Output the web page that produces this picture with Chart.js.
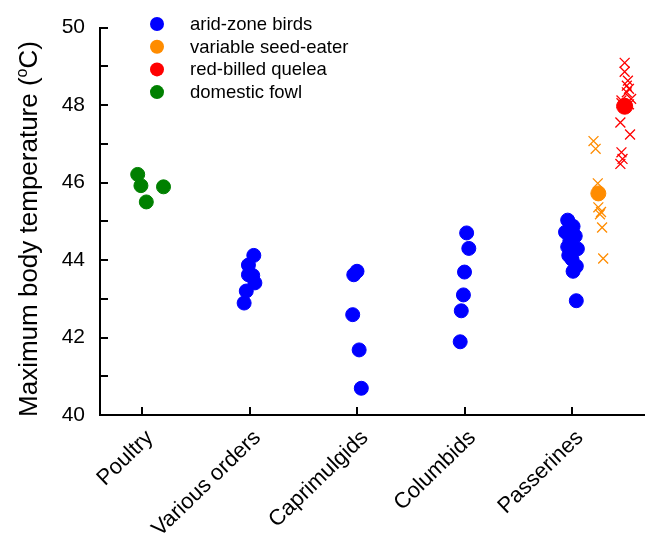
<!DOCTYPE html>
<html>
<head>
<meta charset="utf-8">
<script src="https://cdn.jsdelivr.net/npm/chart.js@4.4.1/dist/chart.umd.min.js"></script>
<style>
  html, body { margin: 0; padding: 0; background: #fff; }
  #wrap { width: 645px; height: 544px; position: relative; }
</style>
</head>
<body>
<div id="wrap"><canvas id="chart"></canvas></div>
<script>
const categories = ['Poultry', 'Various orders', 'Caprimulgids', 'Columbids', 'Passerines'];
const yTicks = [40, 42, 44, 46, 48, 50];

// x = category position (1..5) plus the jitter seen in the figure
const fowlX = [0.96, 0.99, 1.2, 1.04];
const fowlY = [46.21, 45.92, 45.89, 45.5];

const variousX = [2.04, 1.99, 1.99, 2.03, 2.05, 1.97, 1.95];
const variousY = [44.12, 43.87, 43.62, 43.6, 43.41, 43.2, 42.89];

const caprimulgidX = [3.0, 2.97, 2.96, 3.02, 3.04];
const caprimulgidY = [43.71, 43.62, 42.59, 41.68, 40.69];

const columbidX = [4.02, 4.04, 4.0, 3.99, 3.97, 3.96];
const columbidY = [44.7, 44.3, 43.69, 43.1, 42.69, 41.89];

const passerineX = [4.96, 5.01, 4.94, 5.03, 4.98, 4.96, 5.05, 4.97, 5.0, 5.04, 5.01, 5.04];
const passerineY = [45.03, 44.87, 44.72, 44.62, 44.49, 44.34, 44.29, 44.12, 44.02, 43.84, 43.71, 42.95];

const seedEaterX = [5.2, 5.22, 5.24, 5.245, 5.27, 5.26, 5.28, 5.29];
const seedEaterY = [47.07, 46.87, 45.98, 45.36, 45.24, 45.18, 44.84, 44.04];
const seedEaterMean = [5.245, 45.72];

const queleaX = [5.49, 5.49, 5.52, 5.51, 5.53, 5.51, 5.55, 5.46, 5.46, 5.53, 5.45, 5.54, 5.46, 5.47, 5.45];
const queleaY = [49.09, 48.86, 48.63, 48.5, 48.42, 48.33, 48.16, 48.12, 48.05, 48.02, 47.55, 47.24, 46.78, 46.61, 46.48];
const queleaMean = [5.49, 47.97];

const legendItems = [
	{ label: 'arid-zone birds', color: '#0000ff' },
	{ label: 'variable seed-eater', color: '#ff8c00' },
	{ label: 'red-billed quelea', color: '#ff0000' },
	{ label: 'domestic fowl', color: '#008000' },
];

const FONT = "'Liberation Sans', Arial, sans-serif";

function toPoints(xs, ys) {
	return xs.map((x, i) => ({ x: x, y: ys[i] }));
}

const decorations = {
	id: 'decorations',
	afterDraw(chart) {
		const { ctx, chartArea, scales } = chart;
		ctx.save();
		ctx.strokeStyle = '#000';
		ctx.lineWidth = 2;
		// inward ticks
		for (let v = 40; v <= 50; v++) {
			const py = Math.round(scales.y.getPixelForValue(v));
			ctx.beginPath();
			ctx.moveTo(chartArea.left, py);
			ctx.lineTo(chartArea.left + 8, py);
			ctx.stroke();
		}
		categories.forEach((c, i) => {
			const px = Math.round(scales.x.getPixelForValue(i + 1));
			ctx.beginPath();
			ctx.moveTo(px, chartArea.bottom);
			ctx.lineTo(px, chartArea.bottom - 8);
			ctx.stroke();
		});

		// legend
		ctx.font = '18.5px ' + FONT;
		ctx.textBaseline = 'middle';
		ctx.textAlign = 'left';
		legendItems.forEach((item, i) => {
			const y = 24 + i * 22.7;
			ctx.fillStyle = item.color;
			ctx.beginPath();
			ctx.arc(157, y, 7, 0, Math.PI * 2);
			ctx.fill();
			ctx.fillStyle = '#000';
			ctx.fillText(item.label, 190, y + 1);
		});

		// y title with superscript o
		ctx.translate(37, 229);
		ctx.rotate(-Math.PI / 2);
		ctx.textBaseline = 'alphabetic';
		ctx.fillStyle = '#000';
		const big = '26px ' + FONT;
		const small = '16px ' + FONT;
		const t1 = 'Maximum body temperature (';
		const t2 = 'C)';
		ctx.font = big;
		const w1 = ctx.measureText(t1).width;
		const w3 = ctx.measureText(t2).width;
		ctx.font = small;
		const w2 = ctx.measureText('o').width;
		let x = -(w1 + w2 + w3) / 2;
		ctx.font = big;
		ctx.fillText(t1, x, 0);
		x += w1;
		ctx.font = small;
		ctx.fillText('o', x, -10);
		x += w2;
		ctx.font = big;
		ctx.fillText(t2, x, 0);
		ctx.restore();
	},
};

const ctx = document.getElementById('chart').getContext('2d');
new Chart(ctx, {
	type: 'scatter',
	data: {
		datasets: [
			{
				label: 'red-billed quelea mean',
				data: [{ x: queleaMean[0], y: queleaMean[1] }],
				backgroundColor: '#ff0000',
				borderColor: '#ff0000',
				pointRadius: 8,
				order: 0,
			},
			{
				label: 'variable seed-eater mean',
				data: [{ x: seedEaterMean[0], y: seedEaterMean[1] }],
				backgroundColor: '#ff8c00',
				borderColor: '#ff8c00',
				pointRadius: 7.5,
				order: 1,
			},
			{
				label: 'red-billed quelea',
				data: toPoints(queleaX, queleaY),
				pointStyle: 'crossRot',
				borderColor: '#ff0000',
				borderWidth: 1.3,
				pointRadius: 7,
				order: 2,
			},
			{
				label: 'variable seed-eater',
				data: toPoints(seedEaterX, seedEaterY),
				pointStyle: 'crossRot',
				borderColor: '#ff8c00',
				borderWidth: 1.3,
				pointRadius: 7,
				order: 3,
			},
			{
				label: 'arid-zone birds',
				data: [
					...toPoints(variousX, variousY),
					...toPoints(caprimulgidX, caprimulgidY),
					...toPoints(columbidX, columbidY),
					...toPoints(passerineX, passerineY),
				],
				backgroundColor: '#0000ff',
				borderColor: '#0000ff',
				pointRadius: 7,
				order: 4,
			},
			{
				label: 'domestic fowl',
				data: toPoints(fowlX, fowlY),
				backgroundColor: '#008000',
				borderColor: '#008000',
				pointRadius: 7,
				order: 5,
			},
		],
	},
	options: {
		responsive: true,
		maintainAspectRatio: false,
		animation: false,
		layout: { autoPadding: false, padding: { top: 19, left: 0, right: 0, bottom: 0 } },
		plugins: {
			legend: { display: false },
			tooltip: { enabled: false },
		},
		scales: {
			x: {
				type: 'linear',
				min: 1 - 42 / 107.5,
				max: 5 + 73 / 107.5,
				grid: { display: false, drawTicks: false },
				border: { display: true, color: '#000', width: 2 },
				afterBuildTicks: (scale) => {
					scale.ticks = categories.map((c, i) => ({ value: i + 1 }));
				},
				afterFit: (scale) => {
					scale.height = 129;
					scale.paddingLeft = 0;
					scale.paddingRight = 0;
				},
				ticks: {
					autoSkip: false,
					minRotation: 44,
					maxRotation: 44,
					padding: 10,
					labelOffset: 8,
					color: '#000',
					font: { family: FONT, size: 22 },
					callback: (value) => categories[Math.round(value) - 1] || '',
				},
			},
			y: {
				min: 40,
				max: 50,
				grid: { display: false, drawTicks: false },
				border: { display: true, color: '#000', width: 2 },
				afterBuildTicks: (scale) => {
					scale.ticks = yTicks.map((v) => ({ value: v }));
				},
				afterFit: (scale) => {
					scale.width = 100;
				},
				ticks: {
					padding: 15,
					color: '#000',
					font: { family: FONT, size: 21 },
				},
			},
		},
	},
	plugins: [decorations],
});
</script>
</body>
</html>
